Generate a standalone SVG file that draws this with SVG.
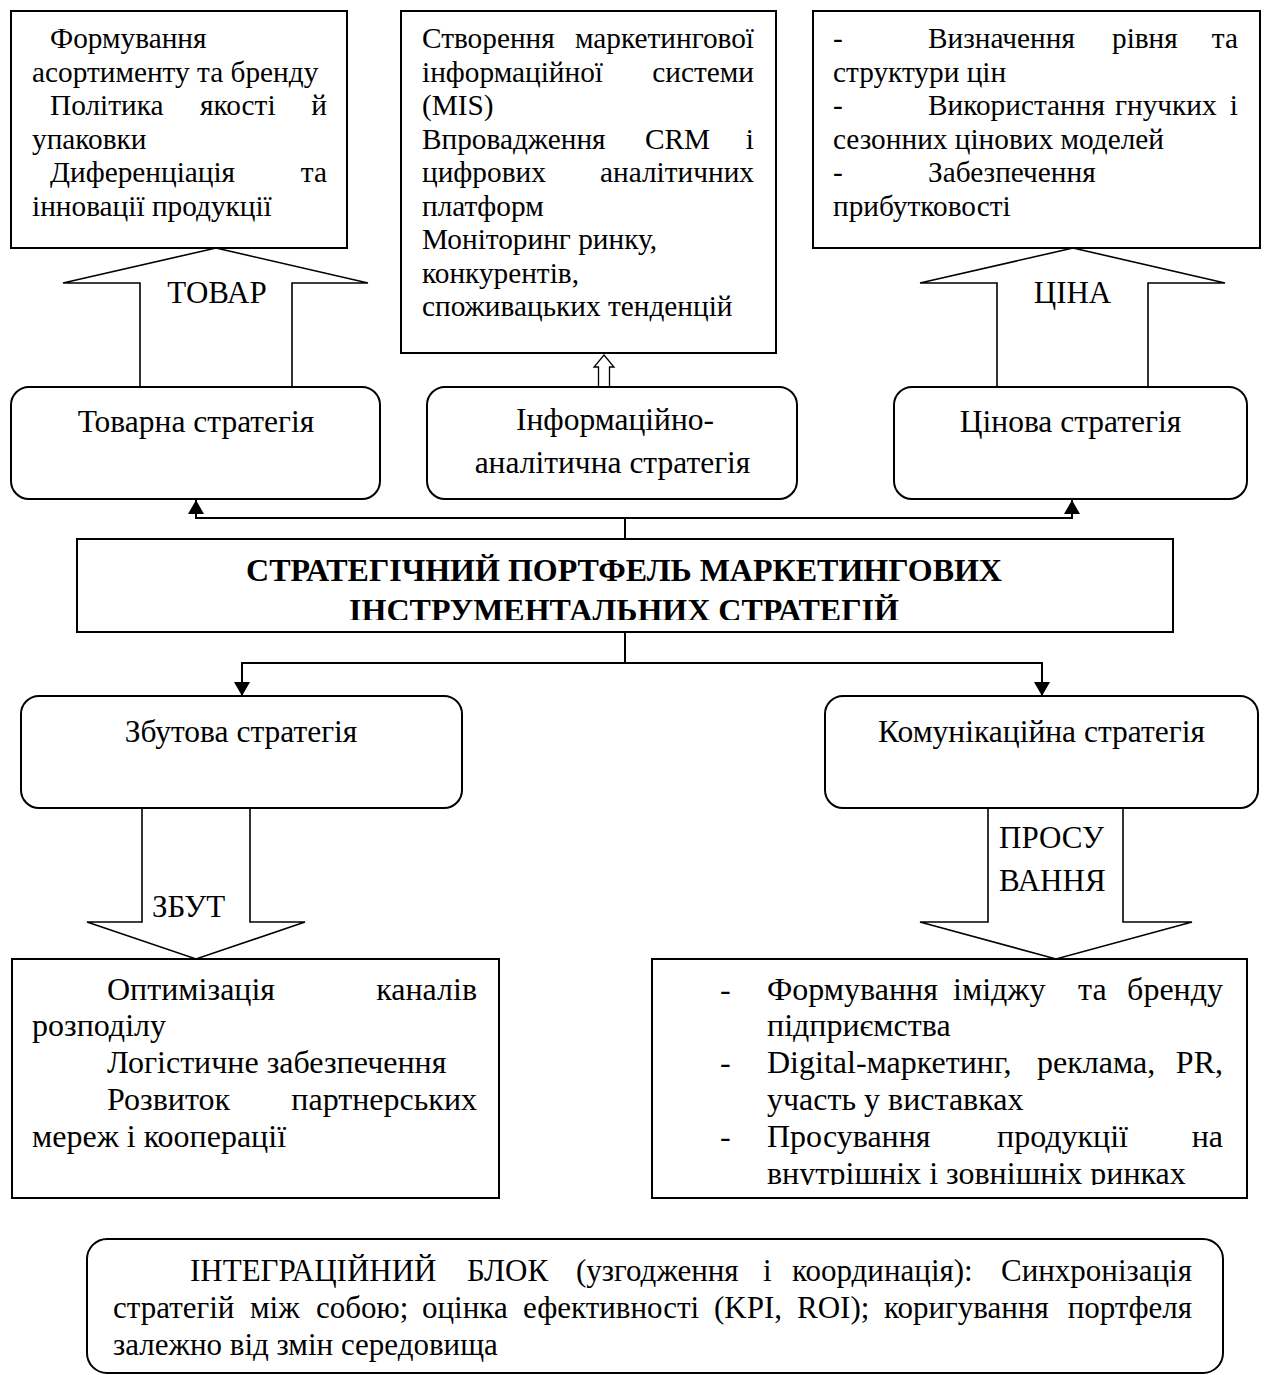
<svg xmlns="http://www.w3.org/2000/svg" width="1264" height="1375" viewBox="0 0 1264 1375">
<style>
text{font-family:"Liberation Serif","Times New Roman",serif;fill:#000}
.t1{font-size:29.3px}
.t2{font-size:32px}
.t3{font-size:31.5px}
.t4{font-size:31px}
.lab{font-size:31px}
.ttl{font-size:32px;font-weight:bold}
.c{text-anchor:middle}
.e{text-anchor:end}
.box{fill:#fff;stroke:#000;stroke-width:2}
.blk{fill:#fff;stroke:#000;stroke-width:1.6;stroke-linejoin:miter}
.con{fill:none;stroke:#000;stroke-width:2}
</style>
<defs>
<marker id="ah" viewBox="0 0 14 16" refX="14" refY="8" markerWidth="14" markerHeight="16" markerUnits="userSpaceOnUse" orient="auto">
<path d="M0,0 L14,8 L0,16 z" fill="#000"/>
</marker>
<clipPath id="clipTitle"><rect x="77" y="539" width="1096" height="81"/></clipPath>
<clipPath id="clipBR"><rect x="652" y="959" width="595" height="226"/></clipPath>
</defs>

<g id="connectors">
<path class="con" d="M625,539 V518"/>
<path class="con" d="M625,518 H196 V500" marker-end="url(#ah)"/>
<path class="con" d="M625,518 H1072 V500" marker-end="url(#ah)"/>
<path class="con" d="M625,632 V663 H242 V696" marker-end="url(#ah)"/>
<path class="con" d="M625,663 H1042 V696" marker-end="url(#ah)"/>
<polygon class="blk" points="216,248 368,283 292,283 292,387 140,387 140,283 63,283"/>
<polygon class="blk" points="1073,248 1225,283 1148,283 1148,387 997,387 997,283 920,283"/>
<polygon class="blk" style="stroke-width:1.3" points="604,355 614,367 609.5,367 609.5,387 598.5,387 598.5,367 594,367"/>
<polygon class="blk" points="142,808 142,922 87,922 196,959 305,922 250,922 250,808"/>
<polygon class="blk" points="988,808 988,922 920,922 1056,959 1192,922 1123,922 1123,808"/>
<text class="lab c" x="217" y="303">ТОВАР</text>
<text class="lab c" x="1072.5" y="303">ЦІНА</text>
<text class="lab" x="152" y="917">ЗБУТ</text>
<text class="lab" x="999" y="848">ПРОСУ</text>
<text class="lab" x="999" y="891">ВАННЯ</text>
</g>

<g id="product-tasks">
<rect class="box" x="11" y="11" width="336" height="237"/>
<text class="t1" x="50" y="48">Формування</text>
<text class="t1" x="32" y="81.5">асортименту та бренду</text>
<text class="t1" x="50" y="115">Політика</text>
<text class="t1" x="200" y="115">якості</text>
<text class="t1 e" x="327" y="115">й</text>
<text class="t1" x="32" y="148.5">упаковки</text>
<text class="t1" x="50" y="182">Диференціація</text>
<text class="t1 e" x="327" y="182">та</text>
<text class="t1" x="32" y="215.5">інновації продукції</text>
</g>

<g id="info-tasks">
<rect class="box" x="401" y="11" width="375" height="342"/>
<text class="t1" x="422" y="48">Створення</text>
<text class="t1 e" x="754" y="48">маркетингової</text>
<text class="t1" x="422" y="81.5">інформаційної</text>
<text class="t1 e" x="754" y="81.5">системи</text>
<text class="t1" x="422" y="115">(MIS)</text>
<text class="t1" x="422" y="148.5">Впровадження</text>
<text class="t1" x="645" y="148.5">CRM</text>
<text class="t1 e" x="754" y="148.5">і</text>
<text class="t1" x="422" y="182">цифрових</text>
<text class="t1 e" x="754" y="182">аналітичних</text>
<text class="t1" x="422" y="215.5">платформ</text>
<text class="t1" x="422" y="249">Моніторинг ринку,</text>
<text class="t1" x="422" y="282.5">конкурентів,</text>
<text class="t1" x="422" y="316">споживацьких тенденцій</text>
</g>

<g id="price-tasks">
<rect class="box" x="813" y="11" width="447" height="237"/>
<text class="t1" x="833" y="48">-</text>
<text class="t1" x="928" y="48">Визначення</text>
<text class="t1" x="1112" y="48">рівня</text>
<text class="t1 e" x="1238" y="48">та</text>
<text class="t1" x="833" y="81.5">структури цін</text>
<text class="t1" x="833" y="115">-</text>
<text class="t1" x="928" y="115">Використання</text>
<text class="t1" x="1115" y="115">гнучких</text>
<text class="t1 e" x="1238" y="115">і</text>
<text class="t1" x="833" y="148.5">сезонних цінових моделей</text>
<text class="t1" x="833" y="182">-</text>
<text class="t1" x="928" y="182">Забезпечення</text>
<text class="t1" x="833" y="215.5">прибутковості</text>
</g>

<g id="product-strategy">
<rect class="box" x="11" y="387" width="369" height="112" rx="18"/>
<text class="t3 c" x="196" y="432">Товарна стратегія</text>
</g>

<g id="info-strategy">
<rect class="box" x="427" y="387" width="370" height="112" rx="18"/>
<text class="t3 c" x="615" y="430">Інформаційно-</text>
<text class="t3 c" x="612.5" y="473">аналітична стратегія</text>
</g>

<g id="price-strategy">
<rect class="box" x="894" y="387" width="353" height="112" rx="18"/>
<text class="t3 c" x="1070.5" y="432">Цінова стратегія</text>
</g>

<g id="portfolio">
<rect class="box" x="77" y="539" width="1096" height="93"/>
<g clip-path="url(#clipTitle)">
<text class="ttl c" x="624" y="581">СТРАТЕГІЧНИЙ ПОРТФЕЛЬ МАРКЕТИНГОВИХ</text>
<text class="ttl c" x="624" y="621">ІНСТРУМЕНТАЛЬНИХ СТРАТЕГІЙ</text>
</g>
</g>

<g id="sales-strategy">
<rect class="box" x="21" y="696" width="441" height="112" rx="18"/>
<text class="t3 c" x="241" y="742">Збутова стратегія</text>
</g>

<g id="comm-strategy">
<rect class="box" x="825" y="696" width="433" height="112" rx="18"/>
<text class="t3 c" x="1041.5" y="742">Комунікаційна стратегія</text>
</g>

<g id="sales-tasks">
<rect class="box" x="12" y="959" width="487" height="239"/>
<text class="t2" x="107" y="999.5">Оптимізація</text>
<text class="t2 e" x="477" y="999.5">каналів</text>
<text class="t2" x="32" y="1036">розподілу</text>
<text class="t2" x="107" y="1073">Логістичне забезпечення</text>
<text class="t2" x="107" y="1110">Розвиток</text>
<text class="t2 e" x="477" y="1110">партнерських</text>
<text class="t2" x="32" y="1147">мереж і кооперації</text>
</g>

<g id="comm-tasks">
<rect class="box" x="652" y="959" width="595" height="239"/>
<g clip-path="url(#clipBR)">
<text class="t2" x="720" y="999.5">-</text>
<text class="t2" x="767" y="999.5">Формування</text>
<text class="t2" x="953" y="999.5">іміджу</text>
<text class="t2" x="1078" y="999.5">та</text>
<text class="t2 e" x="1223" y="999.5">бренду</text>
<text class="t2" x="767" y="1036">підприємства</text>
<text class="t2" x="720" y="1073">-</text>
<text class="t2" x="767" y="1073">Digital-маркетинг,</text>
<text class="t2" x="1037" y="1073">реклама,</text>
<text class="t2 e" x="1223" y="1073">PR,</text>
<text class="t2" x="767" y="1110">участь у виставках</text>
<text class="t2" x="720" y="1147">-</text>
<text class="t2" x="767" y="1147">Просування</text>
<text class="t2" x="997" y="1147">продукції</text>
<text class="t2 e" x="1223" y="1147">на</text>
<text class="t2" x="767" y="1184">внутрішніх і зовнішніх ринках</text>
</g>
</g>

<g id="integration">
<rect class="box" x="87" y="1239" width="1136" height="134" rx="20"/>
<text class="t4" x="190" y="1281">ІНТЕГРАЦІЙНИЙ</text>
<text class="t4" x="467" y="1281">БЛОК</text>
<text class="t4" x="576" y="1281">(узгодження</text>
<text class="t4" x="763" y="1281">і</text>
<text class="t4" x="792" y="1281">координація):</text>
<text class="t4 e" x="1192" y="1281">Синхронізація</text>
<text class="t4" x="113" y="1318">стратегій</text>
<text class="t4" x="250" y="1318">між</text>
<text class="t4" x="316" y="1318">собою;</text>
<text class="t4" x="422" y="1318">оцінка</text>
<text class="t4" x="523" y="1318">ефективності</text>
<text class="t4" x="714" y="1318">(KPI,</text>
<text class="t4" x="797" y="1318">ROI);</text>
<text class="t4" x="884" y="1318">коригування</text>
<text class="t4 e" x="1192" y="1318">портфеля</text>
<text class="t4" x="113" y="1355">залежно від змін середовища</text>
</g>
</svg>
